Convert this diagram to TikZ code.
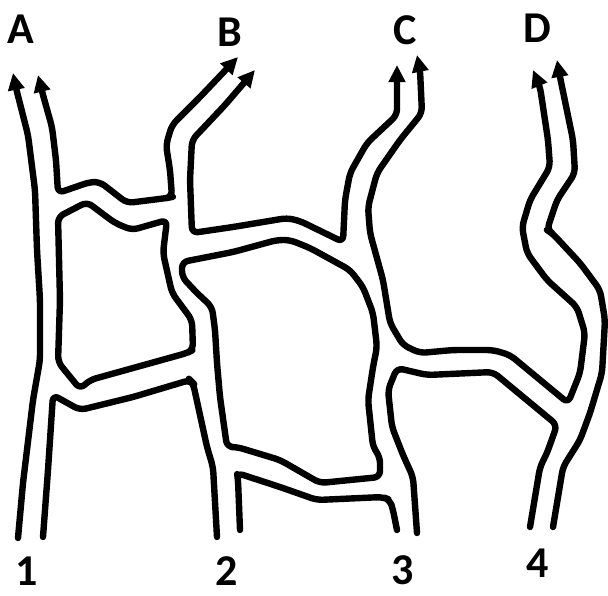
\documentclass[tikz,border=0pt]{standalone}
\usepackage{fontspec}
\setmainfont{Carlito}
\usetikzlibrary{arrows.meta}
\definecolor{ink}{RGB}{0,0,0}
\tikzset{
  >={Triangle[length=8.5pt,width=8pt]},
  wall/.style={draw=ink,line width=3.2pt,line cap=round,line join=round,rounded corners=3pt},
  gate/.style={font=\fontsize{22}{22}\selectfont\bfseries,text=ink,inner sep=0pt},
}
\begin{document}
\begin{tikzpicture}[x=0.5pt,y=-0.5pt]
  \useasboundingbox (0,0) rectangle (608,595);
  % exits and entries
  \foreach \t/\x/\y in {A/21/29,B/230/32,C/405/30,D/537/28,1/27/571,2/227/571,3/403/570,4/538/563}
    \node[gate] (lab\t) at (\x,\y) {\t};
  % outer edges
  \draw[wall,->] (18,538) -- (23,483) -- (33,400) -- (40,360) -- (40,300) -- (37,250) -- (35,190) -- (28,135) -- (16,88) -- (13,73);
  \draw[wall,->] (553,527) -- (563,467) -- (580,440) -- (590,413) -- (602,373) -- (605,320) -- (600,290) -- (580,263) -- (552,233) -- (547,230) -- (557,200) -- (575,173) -- (573,140) -- (560,77) -- (557,60);
  % top edges, an arrow at both ends
  \draw[wall,<->] (38,75) -- (43,95) -- (52,127) -- (56,160) -- (58,193) -- (90,182) -- (100,182) -- (127,203) -- (167,198) -- (172,197) -- (170,170) -- (166,145) -- (172,125) -- (200,97) -- (238,57);
  \draw[wall,<->] (255,70) -- (225,105) -- (192,140) -- (190,180) -- (192,233) -- (233,227) -- (287,218) -- (300,221) -- (343,242) -- (345,200) -- (350,173) -- (367,143) -- (397,115) -- (397,65);
  \draw[wall,<->] (417,55) -- (420,70) -- (422,113) -- (400,140) -- (377,173) -- (368,207) -- (370,233) -- (383,280) -- (390,323) -- (403,345) -- (420,353) -- (453,350) -- (493,350) -- (510,355) -- (568,403) -- (580,373) -- (585,333) -- (577,307) -- (547,280) -- (527,253) -- (522,227) -- (530,200) -- (550,167) -- (548,140) -- (540,87) -- (533,70);
  % blocks
  \draw[wall] (58,217) -- (87,202) -- (115,223) -- (132,230) -- (167,220) -- (163,253) -- (172,293) -- (192,320) -- (193,350) -- (187,353) -- (90,380) -- (80,389) -- (58,362) -- (60,300) -- cycle;
  \draw[wall] (182,262) -- (233,252) -- (277,240) -- (290,240) -- (310,248) -- (350,270) -- (363,287) -- (373,313) -- (377,347) -- (373,367) -- (368,400) -- (373,447) -- (380,457) -- (380,477) -- (320,483) -- (280,460) -- (237,447) -- (227,447) -- (220,397) -- (217,363) -- (215,330) -- (212,307) -- (197,293) -- (182,277) -- cycle;
  % bottom edges
  \draw[wall] (43,537) -- (48,470) -- (53,395) -- (80,410) -- (133,397) -- (190,380) -- (193,383) -- (200,415) -- (207,447) -- (213,467) -- (217,537);
  \draw[wall] (240,530) -- (238,480) -- (237,473) -- (280,487) -- (317,500) -- (383,497) -- (390,500) -- (393,510) -- (397,530);
  \draw[wall] (417,533) -- (413,477) -- (403,455) -- (392,427) -- (388,390) -- (397,368) -- (427,375) -- (493,372) -- (557,425) -- (547,453) -- (540,467) -- (530,527);
\end{tikzpicture}
\end{document}
